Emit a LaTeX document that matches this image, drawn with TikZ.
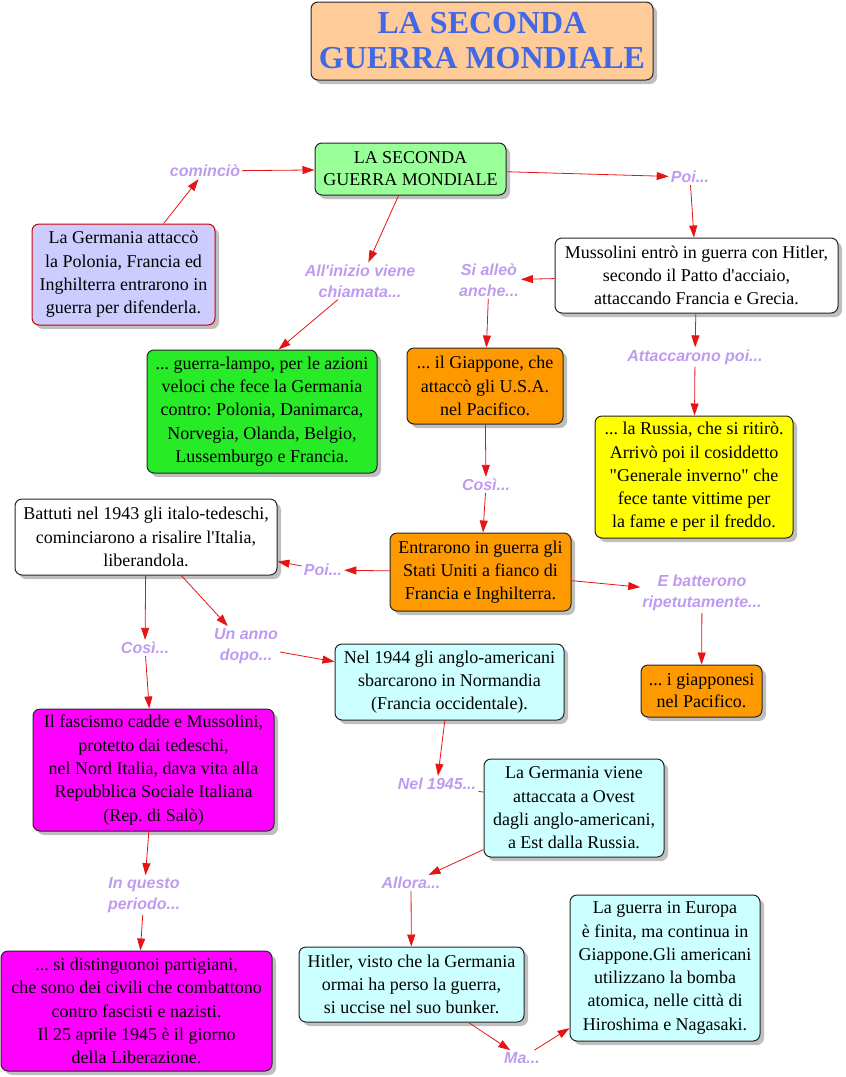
\documentclass[tikz,border=0pt]{standalone}
\usepackage{fontspec}
\setmainfont{Liberation Serif}[Ligatures=TeXOff]
\newfontfamily\lblfont{Liberation Sans}[Ligatures=TeXOff]
\usetikzlibrary{arrows.meta,shadows}
\frenchspacing
\definecolor{lblc}{RGB}{190,155,240}
\definecolor{arrc}{RGB}{230,20,20}
\definecolor{titlefill}{RGB}{255,204,153}
\definecolor{titletext}{RGB}{65,105,230}
\definecolor{mainfill}{RGB}{153,255,153}
\definecolor{lilac}{RGB}{204,204,255}
\definecolor{lampo}{RGB}{40,235,40}
\definecolor{orangef}{RGB}{255,153,0}
\definecolor{yellowf}{RGB}{255,255,0}
\definecolor{cyanf}{RGB}{204,255,255}
\definecolor{magf}{RGB}{255,0,255}
\tikzset{
  box/.style={draw=black!85, line width=1pt, rounded corners=7pt, align=center,
    inner sep=0pt, font=\frenchspacing\fontsize{18}{23.3}\selectfont,
    drop shadow={shadow xshift=4pt, shadow yshift=-4pt, fill=black, opacity=0.25}},
  lbl/.style={text=lblc, align=center, inner sep=2pt,
    font=\lblfont\bfseries\itshape\fontsize{16}{21}\selectfont},
  conn/.style={draw=arrc, line width=0.8pt, -{Triangle[length=12pt,width=8pt]}},
  plain/.style={draw=arrc, line width=0.8pt}
}
\begin{document}
\begin{tikzpicture}[x=1pt,y=-1pt]
\useasboundingbox (0,0) rectangle (846,1077);
% boxes
\node[box, fill=titlefill, minimum width=342pt, minimum height=78pt, text=titletext,
  font=\bfseries\fontsize{32}{35}\selectfont] (title) at (482,41) {LA SECONDA\\GUERRA MONDIALE};
\node[box, fill=mainfill, minimum width=191pt, minimum height=52pt, font=\fontsize{18}{22}\selectfont] (main) at (410.5,169) {LA SECONDA\\GUERRA MONDIALE};
\node[box, draw=red!80!black, fill=lilac, minimum width=183pt, minimum height=101pt] (germ) at (123.5,274.5) {La Germania attaccò\\la Polonia, Francia ed\\Inghilterra entrarono in\\guerra per difenderla.};
\node[box, fill=white, minimum width=283pt, minimum height=75pt] (muss) at (696.5,275.5) {Mussolini entrò in guerra con Hitler,\\secondo il Patto d'acciaio,\\attaccando Francia e Grecia.};
\node[box, fill=lampo, minimum width=230pt, minimum height=123pt] (lampo) at (262,411.5) {... guerra-lampo, per le azioni\\veloci che fece la Germania\\contro: Polonia, Danimarca,\\Norvegia, Olanda, Belgio,\\Lussemburgo e Francia.};
\node[box, fill=orangef, minimum width=156pt, minimum height=76pt] (giap) at (485,386) {... il Giappone, che\\attaccò gli U.S.A.\\nel Pacifico.};
\node[box, fill=yellowf, minimum width=198pt, minimum height=122pt] (russia) at (694,477) {... la Russia, che si ritirò.\\Arrivò poi il cosiddetto\\"Generale inverno" che\\fece tante vittime per\\la fame e per il freddo.};
\node[box, fill=white, minimum width=262pt, minimum height=76pt] (battuti) at (146,537) {Battuti nel 1943 gli italo-tedeschi,\\cominciarono a risalire l'Italia,\\liberandola.};
\node[box, fill=orangef, minimum width=181pt, minimum height=78pt] (usa) at (480.5,572) {Entrarono in guerra gli\\Stati Uniti a fianco di\\Francia e Inghilterra.};
\node[box, fill=orangef, minimum width=121pt, minimum height=52pt, font=\frenchspacing\fontsize{18}{22}\selectfont] (giapponesi) at (701.5,691) {... i giapponesi\\nel Pacifico.};
\node[box, fill=cyanf, minimum width=229pt, minimum height=76pt] (norm) at (449.5,682) {Nel 1944 gli anglo-americani\\sbarcarono in Normandia\\(Francia occidentale).};
\node[box, fill=magf, minimum width=241pt, minimum height=122pt] (fasc) at (153.5,770) {Il fascismo cadde e Mussolini,\\protetto dai tedeschi,\\nel Nord Italia, dava vita alla\\Repubblica Sociale Italiana\\(Rep. di Salò)};
\node[box, fill=cyanf, minimum width=180pt, minimum height=98pt] (gviene) at (574,808) {La Germania viene\\attaccata a Ovest\\dagli anglo-americani,\\a Est dalla Russia.};
\node[box, fill=cyanf, minimum width=225pt, minimum height=75pt] (hitler) at (411.5,984.5) {Hitler, visto che la Germania\\ormai ha perso la guerra,\\si uccise nel suo bunker.};
\node[box, fill=cyanf, minimum width=190pt, minimum height=146pt] (europa) at (665,968) {La guerra in Europa\\è finita, ma continua in\\Giappone.Gli americani\\utilizzano la bomba\\atomica, nelle città di\\Hiroshima e Nagasaki.};
\node[box, fill=magf, minimum width=271pt, minimum height=120pt] (part) at (136.5,1011) {... si distinguonoi partigiani,\\che sono dei civili che combattono\\contro fascisti e nazisti.\\Il 25 aprile 1945 è il giorno\\della Liberazione.};
% labels
\node[lbl] (l1) at (205,171) {cominciò};
\node[lbl] (l2) at (690,177) {Poi...};
\node[lbl] (l3) at (360,281) {All'inizio viene\\chiamata...};
\node[lbl] (l4) at (489,280) {Si alleò\\anche...};
\node[lbl] (l5) at (695,357) {Attaccarono poi...};
\node[lbl] (l6) at (486,485) {Così...};
\node[lbl] (l7) at (323,570) {Poi...};
\node[lbl] (l8) at (702,593) {E batterono\\ripetutamente...};
\node[lbl] (l9) at (145,648) {Così...};
\node[lbl] (l10) at (246,646) {Un anno\\dopo...};
\node[lbl] (l11) at (437,784) {Nel 1945...};
\node[lbl] (l12) at (144,895) {In questo\\periodo...};
\node[lbl] (l13) at (411,883) {Allora...};
\node[lbl] (l14) at (522,1058) {Ma...};
% connectors
\draw[conn] (germ) -- (l1);
\draw[conn] (l1) -- (main);
\draw[conn] (main) -- (l2);
\draw[conn] (l2) -- (muss);
\draw[conn] (main) -- (l3);
\draw[conn] (l3) -- (lampo.75);
\draw[conn] (muss) -- (l4);
\draw[conn] (l4) -- (giap);
\draw[conn] (muss) -- (l5);
\draw[conn] (l5) -- (russia);
\draw[conn] (giap) -- (l6);
\draw[conn] (l6) -- (usa);
\draw[conn] (usa) -- (l7);
\draw[conn] (l7) -- (battuti);
\draw[conn] (usa) -- (l8);
\draw[conn] (l8) -- (giapponesi);
\draw[conn] (battuti) -- (l9);
\draw[conn] (battuti) -- (l10);
\draw[conn] (l10) -- (norm);
\draw[conn] (l9) -- (fasc);
\draw[conn] (norm) -- (l11);
\draw[plain] (l11) -- (gviene);
\draw[conn] (gviene) -- (l13);
\draw[conn] (l13) -- (hitler);
\draw[conn] (fasc) -- (l12);
\draw[conn] (l12) -- (part);
\draw[conn] (hitler) -- (l14);
\draw[conn] (l14) -- (europa);
\end{tikzpicture}
\end{document}
